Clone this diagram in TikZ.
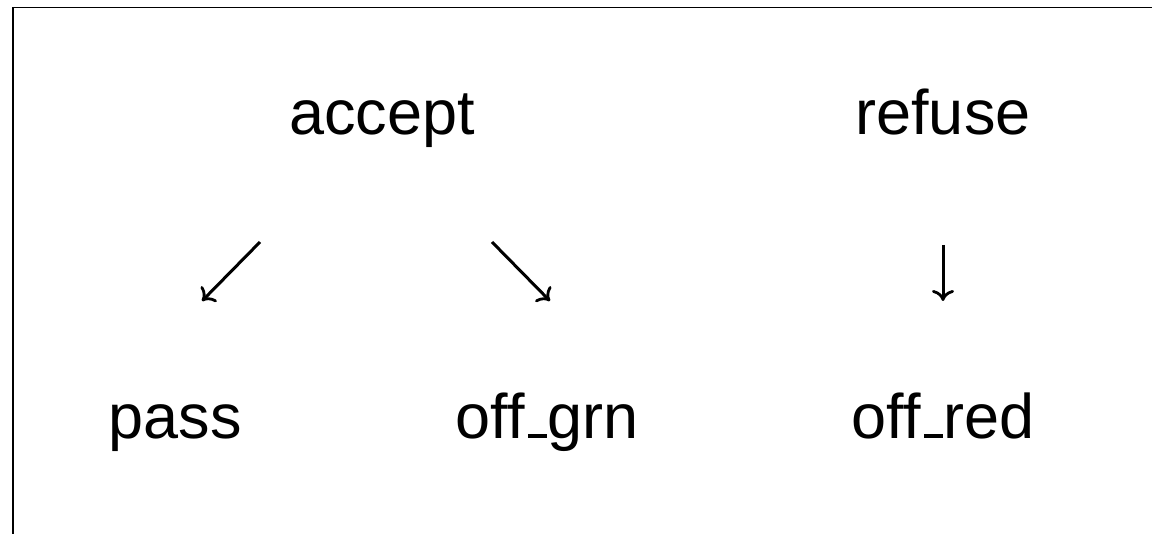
\documentclass[tikz,border=0pt]{standalone}
\usepackage{fontspec}
\setmainfont{Liberation Sans}
\usetikzlibrary{arrows.meta}
\newcommand\lowbar{\leavevmode\kern.06em\vbox{\hrule width.3em height .06em}}
\tikzset{
  lbl/.style={inner sep=0pt, anchor=base, font=\fontsize{31.5}{38}\selectfont},
  conn/.style={line width=1.5pt, -{Computer Modern Rightarrow[width=11pt,length=5.5pt,line width=1.4pt]}},
  frameline/.style={line width=0.9pt}
}
\begin{document}
\begin{tikzpicture}[x=0.5pt,y=-0.5pt]
\useasboundingbox (0,0) rectangle (1152,534);
% frame (clipped)
\coordinate (fl) at (13,534);
\coordinate (fc) at (13,7.5);
\coordinate (fr) at (1152,7.5);
\draw[frameline] (fl) -- (fc) -- (fr);
% labels
\node[lbl] (accept) at (382,135) {accept};
\node[lbl] (refuse) at (943,135) {refuse};
\node[lbl] (pass) at (175,438) {pass};
\node[lbl] (offgrn) at (547,438) {off\lowbar grn};
\node[lbl] (offred) at (943,438) {off\lowbar red};
% arrow ends
\coordinate (a1s) at (260,242);
\coordinate (a1e) at (202,301);
\coordinate (a2s) at (492,242);
\coordinate (a2e) at (550,301);
\coordinate (a3s) at (943,245);
\coordinate (a3e) at (943,301);
\draw[conn] (a1s) -- (a1e);
\draw[conn] (a2s) -- (a2e);
\draw[conn] (a3s) -- (a3e);
\end{tikzpicture}
\end{document}
